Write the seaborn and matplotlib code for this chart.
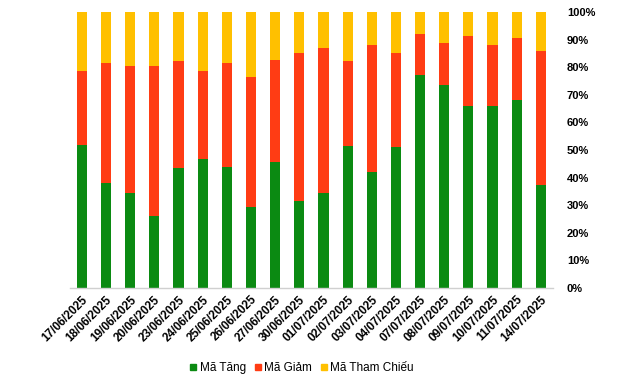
import matplotlib
matplotlib.use("Agg")
import matplotlib.pyplot as plt
import seaborn as sns
import numpy as np
import pandas as pd
from matplotlib.ticker import PercentFormatter
from matplotlib.lines import Line2D

dates = ["17/06/2025", "18/06/2025", "19/06/2025", "20/06/2025", "23/06/2025",
         "24/06/2025", "25/06/2025", "26/06/2025", "27/06/2025", "30/06/2025",
         "01/07/2025", "02/07/2025", "03/07/2025", "04/07/2025", "07/07/2025",
         "08/07/2025", "09/07/2025", "10/07/2025", "11/07/2025", "14/07/2025"]
tang = [51.8, 38.0, 34.4, 26.1, 43.5, 46.7, 43.8, 29.3, 45.7, 31.5,
        34.4, 51.6, 42.0, 51.1, 77.2, 73.6, 65.9, 65.9, 68.1, 37.3]
giam = [26.8, 43.5, 46.0, 54.3, 38.7, 31.9, 37.7, 47.1, 36.9, 53.6,
        52.6, 30.6, 46.0, 34.0, 14.8, 15.2, 25.4, 22.1, 22.5, 48.6]
tham_chieu = [100 - a - b for a, b in zip(tang, giam)]

series_names = ["Mã Tăng", "Mã Giảm", "Mã Tham Chiếu"]
colors = ["#0B8A12", "#FF3C14", "#FFC000"]

sns.set_style("white")
plt.rcParams["font.family"] = ["Liberation Sans", "DejaVu Sans"]
plt.rcParams["text.color"] = "black"
plt.rcParams["xtick.color"] = "black"
plt.rcParams["ytick.color"] = "black"

df = pd.DataFrame({"date": dates, "tang": tang, "giam": giam, "tc": tham_chieu})
df["c1"] = df["tang"]
df["c2"] = df["tang"] + df["giam"]
df["c3"] = df["c2"] + df["tc"]

fig = plt.figure(figsize=(6.4, 3.79), dpi=100)
ax = fig.add_axes([0.109, 0.240, 0.755, 0.728])

for col, c in zip(["c3", "c2", "c1"], colors[::-1]):
    sns.barplot(data=df, x="date", y=col, color=c, width=0.42, ax=ax,
                saturation=1, edgecolor="none", linewidth=0)

ax.set_xlim(-0.5, len(dates) - 0.5)
ax.set_ylim(0, 100)
ax.set_yticks(np.arange(0, 101, 10))
ax.yaxis.set_major_formatter(PercentFormatter(decimals=0))
ax.yaxis.tick_right()
ax.set_xlabel("")
ax.set_ylabel("")
for s in ["top", "left", "right"]:
    ax.spines[s].set_visible(False)
ax.spines["bottom"].set_color("#D0D0D0")
ax.spines["bottom"].set_linewidth(1.0)
ax.tick_params(axis="both", length=0)
ax.tick_params(axis="y", pad=10, labelsize=8)
ax.tick_params(axis="x", pad=4, labelsize=8.5)
for lab in ax.get_yticklabels():
    lab.set_fontweight("bold")
for lab in ax.get_xticklabels():
    lab.set_fontweight("bold")
    lab.set_rotation(45)
    lab.set_ha("right")
    lab.set_rotation_mode("anchor")

handles = [Line2D([0], [0], marker="s", linestyle="", markersize=5,
                  markerfacecolor=c, markeredgecolor=c) for c in colors]
fig.legend(handles, series_names, loc="center", bbox_to_anchor=(0.47, 0.029),
           ncol=3, frameon=False, handletextpad=0.05, handlelength=1.0,
           columnspacing=0.5, prop={"size": 8.5})

fig.savefig("out.png", dpi=100)
